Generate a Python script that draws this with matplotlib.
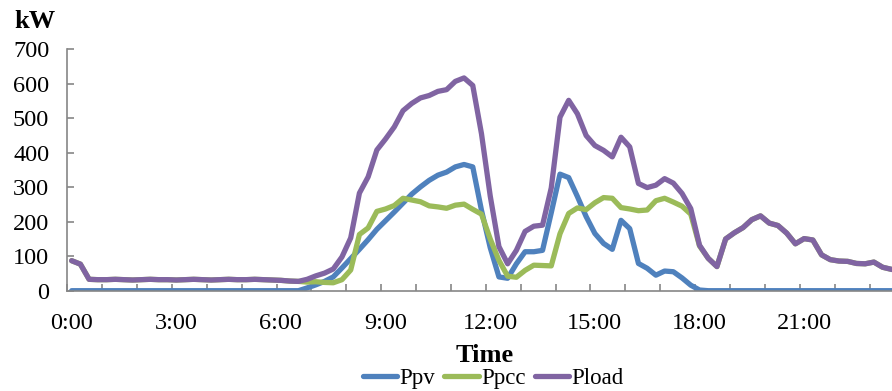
import matplotlib
matplotlib.use("Agg")
import matplotlib.pyplot as plt
import numpy as np

# 15-minute readings, 0:00 .. 23:45 (kW)
ppv = [0] * 27 + [
    8, 17, 27, 40, 66, 93, 120, 148, 178, 203, 228, 254, 280, 301, 320, 335,
    344, 359, 366, 359, 233, 125, 40, 36, 78, 113, 113, 117, 226, 338, 328, 273,
    215, 166, 137, 120, 204, 180, 79, 65, 45, 57, 55, 37, 16, 2] + [0] * 23

pload = [
    87, 77, 33, 32, 32, 33, 32, 31, 32, 33, 32, 32, 31, 32, 33, 32,
    31, 32, 33, 32, 32, 33, 32, 31, 30, 28, 27, 33, 43, 51, 63, 98,
    153, 283, 330, 408, 440, 475, 522, 543, 559, 566, 578, 583, 607, 617, 595, 455,
    275, 128, 78, 117, 172, 187, 190, 298, 503, 552, 513, 450, 421, 407, 388, 445,
    417, 311, 299, 306, 325, 312, 282, 238, 132, 94, 70, 150, 168, 183, 206, 217,
    196, 189, 167, 136, 151, 147, 104, 90, 86, 85, 79, 78, 83, 68, 62, 58]

ppcc = [
    87, 77, 33, 32, 32, 33, 32, 31, 32, 33, 32, 32, 31, 32, 33, 32,
    31, 32, 33, 32, 32, 33, 32, 31, 30, 28, 27, 25, 26, 24, 23, 32,
    60, 163, 182, 230, 237, 247, 268, 263, 258, 246, 243, 239, 248, 251, 236, 222,
    150, 88, 42, 39, 59, 74, 73, 72, 165, 224, 240, 235, 255, 270, 268, 241,
    237, 232, 234, 261, 268, 257, 245, 222, 130, 94, 70, 150, 168, 183, 206, 217,
    196, 189, 167, 136, 151, 147, 104, 90, 86, 85, 79, 78, 83, 68, 62, 58]

hour_labels = ["0:00", "3:00", "6:00", "9:00", "12:00", "15:00", "18:00", "21:00"]

series = [("Ppv", ppv, "#4F81BD"), ("Ppcc", ppcc, "#9BBB59"), ("Pload", pload, "#8064A2")]

plt.rcParams["font.family"] = ["Liberation Serif", "DejaVu Serif"]

fig = plt.figure(figsize=(8.92, 3.91), dpi=100)
ax = fig.add_axes([67.3 / 892, 100.3 / 391, 837.1 / 892, 241.4 / 391])

x = np.arange(len(pload))
for name, vals, col in series:
    ax.plot(x, vals, color=col, lw=3.8, label=name,
            solid_joinstyle="round", solid_capstyle="round")

ax.set_xlim(-0.5, len(pload) - 0.5)
ax.set_ylim(0, 700)
ax.set_yticks(np.arange(0, 701, 100))

# tick marks between categories every hour, labels every 3 hours
ax.set_xticks(np.arange(-0.5, len(pload), 4))
ax.set_xticklabels([])
ax.set_xticks(np.arange(0, len(pload), 12), minor=True)
ax.set_xticklabels(hour_labels, minor=True)

axis_col = "#868686"
for s in ["top", "right"]:
    ax.spines[s].set_visible(False)
for s in ["left", "bottom"]:
    ax.spines[s].set_color(axis_col)
    ax.spines[s].set_linewidth(1.2)

ax.tick_params(axis="y", direction="in", length=5, width=1.2, color=axis_col,
               labelsize=17.5, pad=13)
ax.tick_params(axis="x", which="major", direction="in", length=5, width=1.2,
               color=axis_col)
ax.tick_params(axis="x", which="minor", length=0, labelsize=17.5, pad=16)

fig.text(14 / 892, 1 - 28.3 / 391, "kW", fontsize=19, fontweight="bold",
         va="baseline", ha="left")
fig.text(485 / 892, 1 - 362 / 391, "Time", fontsize=19, fontweight="bold",
         va="baseline", ha="center")

fig.legend(loc="center", bbox_to_anchor=(493 / 892, 1 - 378 / 391), ncol=3,
           frameon=False, fontsize=16.5, handlelength=1.5, handletextpad=0.1,
           columnspacing=0.4, borderpad=0, borderaxespad=0)

fig.savefig("out.png", dpi=100)
